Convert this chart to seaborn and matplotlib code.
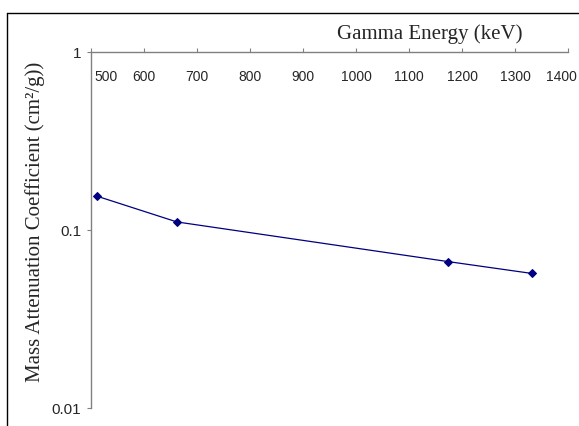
import matplotlib
matplotlib.use("Agg")
import numpy as np
import pandas as pd
import seaborn as sns
from matplotlib import pyplot as plt
from matplotlib.transforms import ScaledTranslation

# gamma energies (keV) and mass attenuation coefficients (cm2/g)
energy = [511, 662, 1173, 1332]
mu = [0.155, 0.111, 0.0665, 0.057]
xticks = [500, 600, 700, 800, 900, 1000, 1100, 1200, 1300, 1400]
yticks = [0.01, 0.1, 1]
ytick_labels = ["0.01", "0.1", "1"]

df = pd.DataFrame({"energy": energy, "mu": mu})

sns.set_style("white")
plt.rcParams["font.family"] = ["Liberation Sans", "DejaVu Sans"]

fig = plt.figure(figsize=(5.79, 4.26), dpi=100)
ax = fig.add_axes([91 / 579, 1 - 408 / 426, (568 - 91) / 579, (408 - 52) / 426])

sns.lineplot(x="energy", y="mu", data=df, ax=ax, color="#000080",
             marker="D", markersize=4.5, markeredgecolor="#000080",
             linewidth=0.9)

ax.set_yscale("log")
ax.set_xlim(500, 1400)
ax.set_ylim(0.01, 1)
ax.set_yticks(yticks)
ax.set_yticklabels(ytick_labels)
ax.yaxis.set_minor_locator(matplotlib.ticker.NullLocator())

ax.xaxis.tick_top()
ax.set_xticks(xticks)
ax.set_xticklabels([str(t) for t in xticks])

for side in ["right", "bottom"]:
    ax.spines[side].set_visible(False)
for side in ["top", "left"]:
    ax.spines[side].set_color("#808080")
    ax.spines[side].set_linewidth(1.0)

ax.tick_params(axis="x", which="major", direction="out", length=3,
               color="#808080", labelsize=10, pad=-26, top=True, bottom=False)
ax.tick_params(axis="y", which="major", direction="out", length=3,
               color="#808080", labelsize=11, pad=4, left=True)

labels = ax.get_xticklabels()
labels[0].set_transform(labels[0].get_transform() + ScaledTranslation(0.15, 0, fig.dpi_scale_trans))
labels[-1].set_transform(labels[-1].get_transform() + ScaledTranslation(-0.07, 0, fig.dpi_scale_trans))

ax.set_xlabel("")
ax.set_ylabel("")
fig.text(430 / 579, 1 - 34 / 426, "Gamma Energy (keV)", family="Liberation Serif",
         fontsize=15, ha="center", va="center")
fig.text(35 / 579, 1 - 222 / 426, "Mass Attenuation Coefficient (cm\u00b2/g))",
         family="Liberation Serif", fontsize=15, rotation=90,
         ha="center", va="center")

# outer frame (only top and left edges fall inside the image)
fig.add_artist(plt.Line2D([7 / 579, 1], [1 - 13 / 426, 1 - 13 / 426],
                          transform=fig.transFigure, color="black", linewidth=1))
fig.add_artist(plt.Line2D([7 / 579, 7 / 579], [0, 1 - 13 / 426],
                          transform=fig.transFigure, color="black", linewidth=1))

fig.savefig("out.png", dpi=100)
